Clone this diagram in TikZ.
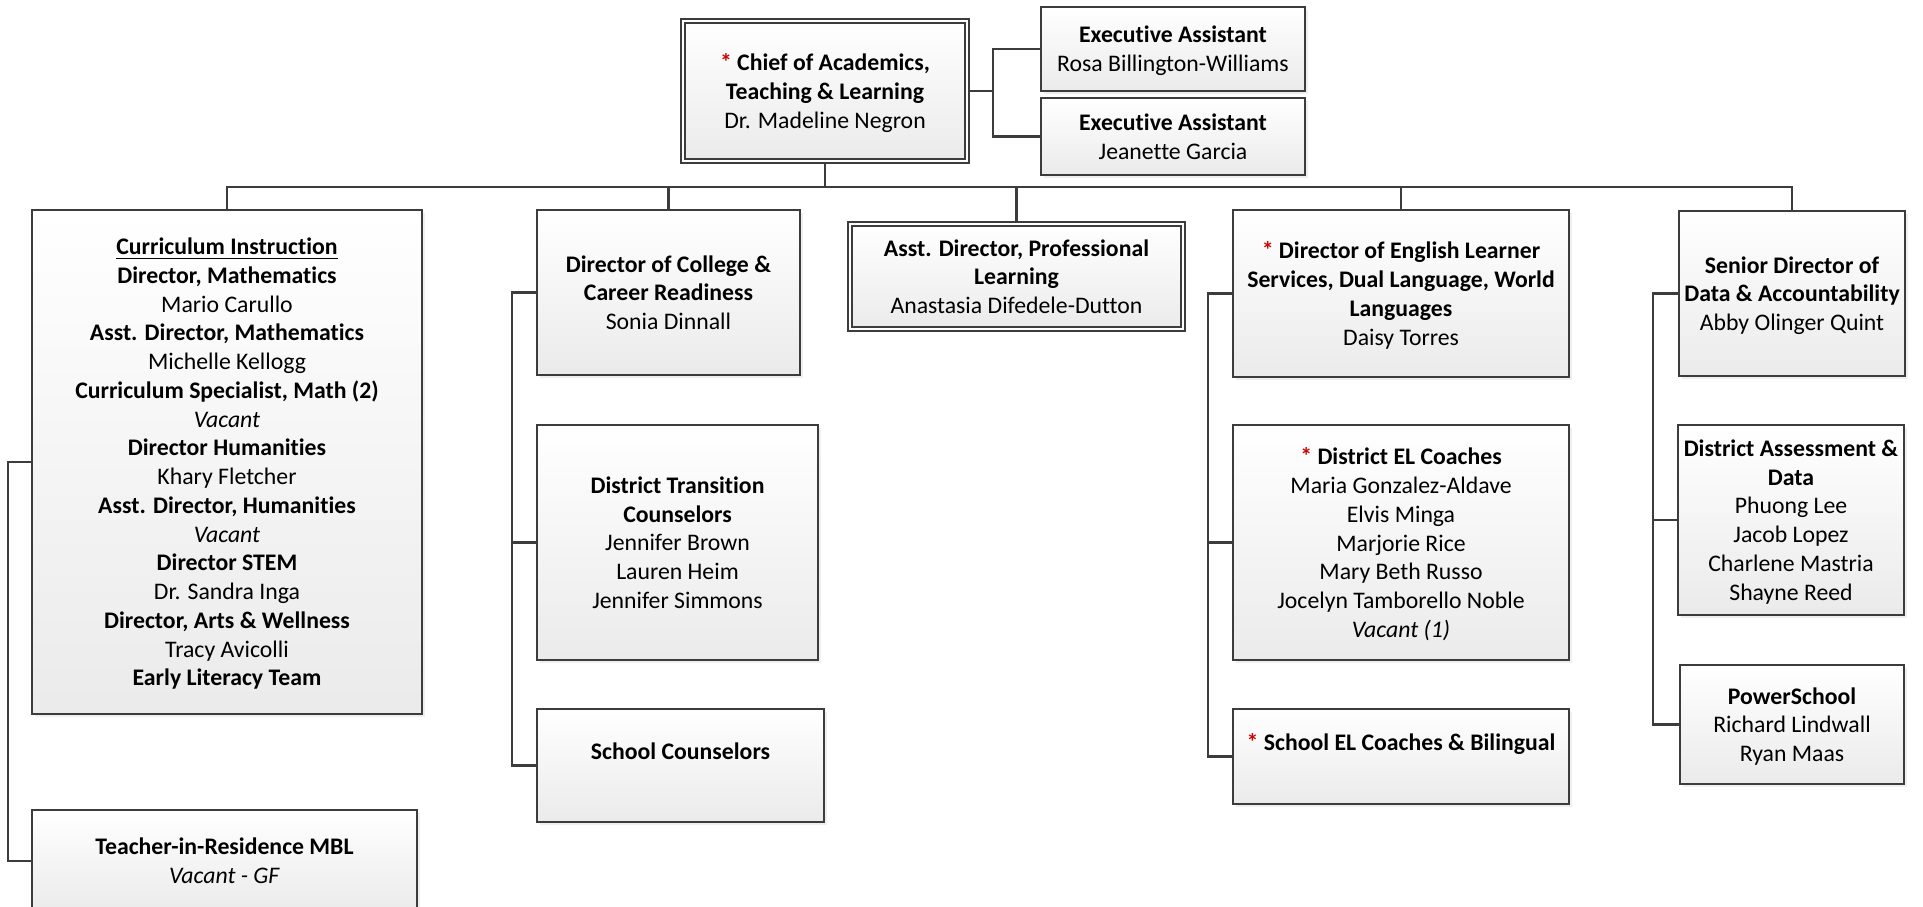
\documentclass[tikz,border=0pt]{standalone}
\usepackage{fontspec}
\setmainfont{Carlito}[Ligatures=NoCommon]
\usetikzlibrary{shadows}
\definecolor{linegray}{RGB}{60,60,60}
\definecolor{starred}{RGB}{204,0,0}
\newcommand{\redstar}{\textcolor{starred}{*}\ }
\tikzset{
	box/.style={draw=linegray, line width=0.85pt, top color=white, bottom color=black!8, align=center, inner sep=0pt,
		text depth=0pt, font=\fontsize{9.5}{11.5}\selectfont,
		drop shadow={shadow xshift=1.2pt, shadow yshift=-1.2pt, fill=black!12}},
	dbox/.style={box, line width=0.7pt, double=white, double distance=0.9pt},
	link/.style={draw=linegray, line width=0.85pt},
	thicklink/.style={link, line width=1.1pt}
}

\begin{document}
\begin{tikzpicture}[x=0.4pt, y=-0.4pt]

	\useasboundingbox (0,0) rectangle (1923,906);

	\node[dbox, minimum width=113.6pt, minimum height=56pt] (chief) at (825,91) {\textbf{\redstar Chief of Academics,}\\\textbf{Teaching \& Learning}\\Dr. Madeline Negron};
	\node[box, minimum width=105.6pt, minimum height=33.6pt] (ea1) at (1173,49) {\textbf{Executive Assistant}\\Rosa Billington-Williams};
	\node[box, minimum width=105.6pt, minimum height=30.8pt] (ea2) at (1173,136.5) {\textbf{Executive Assistant}\\Jeanette Garcia};

	\node[box, minimum width=156pt, minimum height=201.6pt] (curric) at (227,462) {\textbf{\underline{Curriculum Instruction}}\\\textbf{Director, Mathematics}\\Mario Carullo\\\textbf{Asst. Director, Mathematics}\\Michelle Kellogg\\\textbf{Curriculum Specialist, Math (2)}\\\textit{Vacant}\\\textbf{Director Humanities}\\Khary Fletcher\\\textbf{Asst. Director, Humanities}\\\textit{Vacant}\\\textbf{Director STEM}\\Dr. Sandra Inga\\\textbf{Director, Arts \& Wellness}\\Tracy Avicolli\\\textbf{Early Literacy Team}};
	\node[box, minimum width=154pt, minimum height=40.8pt] (teacher) at (224.5,861) {\textbf{Teacher-in-Residence MBL}\\\textit{Vacant - GF}};

	\node[box, minimum width=105.2pt, minimum height=66pt] (college) at (668.5,292.5) {\textbf{Director of College \&}\\\textbf{Career Readiness}\\Sonia Dinnall};
	\node[box, minimum width=112.4pt, minimum height=94pt] (trans) at (677.5,542.5) {\textbf{District Transition}\\\textbf{Counselors}\\Jennifer Brown\\Lauren Heim\\Jennifer Simmons};
	\node[box, minimum width=114.8pt, minimum height=45.2pt] (schoolcoun) at (680.5,765.5) {\textbf{School Counselors}\\\mbox{}};

	\node[dbox, minimum width=133.2pt, minimum height=42pt] (profl) at (1016.5,276.5) {\textbf{Asst. Director, Professional}\\\textbf{Learning}\\Anastasia Difedele-Dutton};

	\node[box, minimum width=134.4pt, minimum height=66.8pt] (ell) at (1401,293.5) {\textbf{\redstar Director of English Learner}\\\textbf{Services, Dual Language, World}\\\textbf{Languages}\\Daisy Torres};
	\node[box, minimum width=134.4pt, minimum height=94pt] (elcoach) at (1401,542.5) {\textbf{\redstar District EL Coaches}\\Maria Gonzalez-Aldave\\Elvis Minga\\Marjorie Rice\\Mary Beth Russo\\Jocelyn Tamborello Noble\\\textit{Vacant (1)}};
	\node[box, minimum width=134.4pt, minimum height=38pt] (schoolel) at (1401,756.5) {\textbf{\redstar School EL Coaches \& Bilingual}\\\mbox{}};

	\node[box, minimum width=90.4pt, minimum height=66pt] (data) at (1792,293.5) {\textbf{Senior Director of}\\\textbf{Data \& Accountability}\\Abby Olinger Quint};
	\node[box, minimum width=90.4pt, minimum height=76pt] (assess) at (1791,520) {\textbf{District Assessment \&}\\\textbf{Data}\\Phuong Lee\\Jacob Lopez\\Charlene Mastria\\Shayne Reed};
	\node[box, minimum width=89.6pt, minimum height=47.6pt] (power) at (1792,724.5) {\textbf{PowerSchool}\\Richard Lindwall\\Ryan Maas};

	\coordinate (bus) at (825,187);
	\draw[thicklink] (chief.south) -- (bus);
	\draw[link] (bus) -| (curric.north);
	\draw[link] (bus) -| (college.north);
	\draw[link] (bus) -| (profl.north);
	\draw[link] (bus) -| (ell.north);
	\draw[link] (bus) -| (data.north);

	\draw[thicklink] (chief.east) -- ++(25,0) coordinate (eatrunk) |- (ea1.west);
	\draw[thicklink] (eatrunk) |- (ea2.west);

	\draw[link] (curric.west) -- ++(-23,0) |- (teacher.west);
	\draw[link] (college.west) -- ++(-24,0) coordinate (ctrunk) |- (schoolcoun.west);
	\draw[link] (trans.west) -- (trans.west -| ctrunk);
	\draw[link] (ell.west) -- ++(-24,0) coordinate (etrunk) |- (schoolel.west);
	\draw[link] (elcoach.west) -- (elcoach.west -| etrunk);
	\draw[link] (data.west) -- ++(-25,0) coordinate (dtrunk) |- (power.west);
	\draw[link] (assess.west) -- (assess.west -| dtrunk);

\end{tikzpicture}
\end{document}
